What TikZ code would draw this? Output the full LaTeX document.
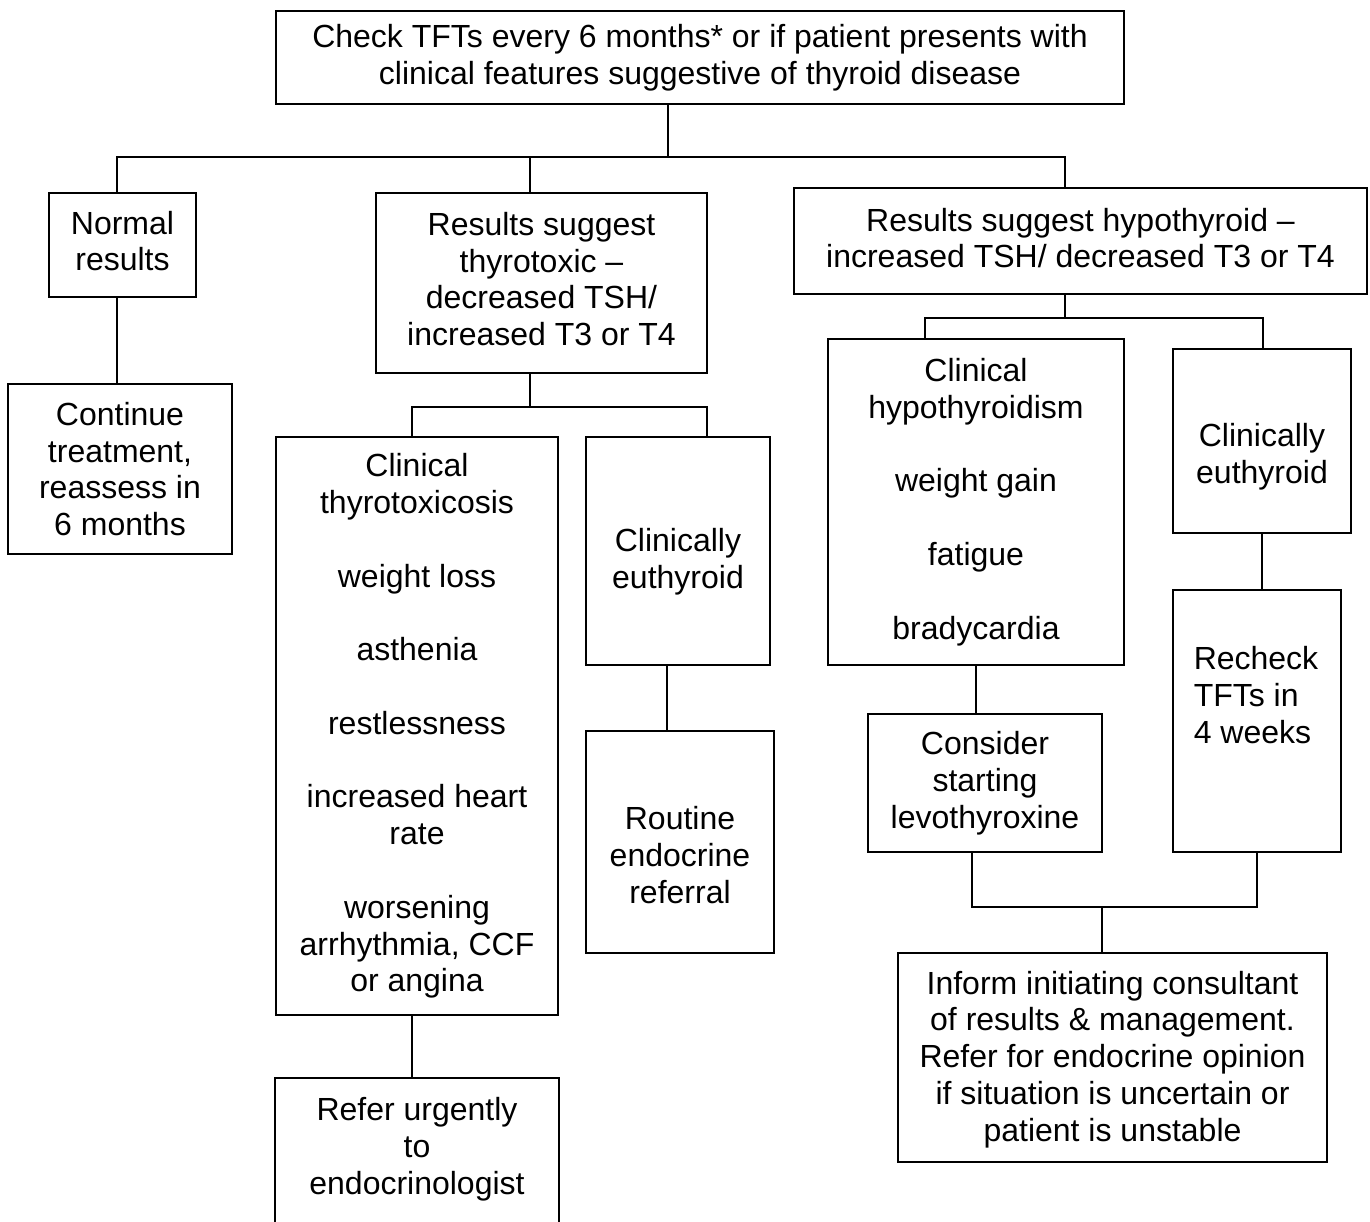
\documentclass[tikz,border=0pt]{standalone}
\usepackage{fontspec}
\setmainfont{Liberation Sans}
\begin{document}
\begin{tikzpicture}[x=1pt,y=-1pt,
  every path/.style={line width=1.6pt},
  box/.style={draw, line width=1.6pt, inner sep=0pt, align=center, font=\fontsize{32}{36.8}\selectfont},
  txt/.style={inner sep=0pt, align=center, font=\fontsize{32}{36.8}\selectfont},
  conn/.style={line width=1.6pt, line join=miter}]
\useasboundingbox[fill=white] (0,0) rectangle (1370,1221);

% boxes
\node[box, minimum width=848pt, minimum height=93pt] (top) at (700,57.5)
  {Check TFTs every 6 months* or if patient presents with\\clinical features suggestive of thyroid disease};
\node[box, minimum width=147pt, minimum height=104pt] (normal) at (122.5,245) {};
\node[txt] (normalt) at (122.5,241) {Normal\\results};
\node[box, minimum width=331pt, minimum height=180pt] (thyro) at (541.5,283) {};
\node[txt] (thyrot) at (541.5,279)
  {Results suggest\\thyrotoxic –\\decreased TSH/\\increased T3 or T4};
\node[box, minimum width=573pt, minimum height=106pt] (hypo) at (1080.5,241) {};
\node[txt] (hypot) at (1080.5,238)
  {Results suggest hypothyroid –\\increased TSH/ decreased T3 or T4};
\node[box, minimum width=224pt, minimum height=170pt] (cont) at (120,469)
  {Continue\\treatment,\\reassess in\\6 months};
\node[box, minimum width=282pt, minimum height=578pt] (ctox) at (417,726)
  {Clinical\\thyrotoxicosis\\[36.8pt]weight loss\\[36.8pt]asthenia\\[36.8pt]restlessness\\[36.8pt]increased heart\\rate\\[36.8pt]worsening\\arrhythmia, CCF\\or angina};
\node[box, minimum width=184pt, minimum height=228pt] (euthA) at (678,551) {};
\node[txt] (euthAt) at (678,562) {Clinically\\euthyroid};
\node[box, minimum width=188pt, minimum height=222pt] (routine) at (680,842) {};
\node[txt] (routinet) at (680,855) {Routine\\endocrine\\referral};
\node[txt, minimum width=282pt, minimum height=140pt] (refer) at (417,1149)
  {Refer urgently\\to\\endocrinologist};
\draw ([yshift=-100pt]refer.south west) -- (refer.north west) -- (refer.north east) -- ([yshift=-100pt]refer.south east);
\node[box, minimum width=296pt, minimum height=326pt] (chypo) at (976,502)
  {Clinical\\hypothyroidism\\[36.8pt]weight gain\\[36.8pt]fatigue\\[36.8pt]bradycardia};
\node[box, minimum width=178pt, minimum height=184pt] (euthB) at (1262,441) {};
\node[txt] (euthBt) at (1262,457) {Clinically\\euthyroid};
\node[box, minimum width=234pt, minimum height=138pt] (consider) at (985,783)
  {Consider\\starting\\levothyroxine};
\node[box, minimum width=168pt, minimum height=262pt] (recheck) at (1257,721) {};
\node[txt, align=left] (recheckt) at (1256,695) {Recheck\\TFTs in\\4 weeks};
\node[box, minimum width=429pt, minimum height=209pt] (inform) at (1112.5,1057.5) {};
\node[txt] (informt) at (1112.5,1059.5)
  {Inform initiating consultant\\of results \& management.\\Refer for endocrine opinion\\if situation is uncertain or\\patient is unstable};

% connector coordinates
\coordinate (busT) at (668,157);
\coordinate (busL) at (117,157);
\coordinate (busM) at (530,157);
\coordinate (busR) at (1065,157);
\coordinate (b2M) at (530,407);
\coordinate (b2L) at (412,407);
\coordinate (b2R) at (707,407);
\coordinate (b3M) at (1065,318);
\coordinate (b3L) at (925,318);
\coordinate (b3R) at (1263,318);
\coordinate (jL) at (972,907);
\coordinate (jR) at (1257,907);
\coordinate (jM) at (1102,907);

% connectors
\draw[conn] (top.south -| busT) -- (busT);
\draw[conn] (busL |- normal.north) -- (busL) -- (busR) -- (busR |- hypo.north);
\draw[conn] (busM) -- (busM |- thyro.north);
\draw[conn] (normal.south -| busL) -- (busL |- cont.north);
\draw[conn] (thyro.south -| b2M) -- (b2M);
\draw[conn] (b2L |- ctox.north) -- (b2L) -- (b2R) -- (b2R |- euthA.north);
\draw[conn] (euthA.south -| routine.north) ++(-13pt,0) -- ([xshift=-13pt]routine.north);
\draw[conn] (ctox.south -| b2L) -- (b2L |- refer.north);
\draw[conn] (hypo.south -| b3M) -- (b3M);
\draw[conn] (b3L |- chypo.north) -- (b3L) -- (b3R) -- (b3R |- euthB.north);
\draw[conn] (chypo.south) -- (chypo.south |- consider.north);
\draw[conn] (euthB.south) -- (euthB.south |- recheck.north);
\draw[conn] (jL |- consider.south) -- (jL) -- (jR) -- (jR |- recheck.south);
\draw[conn] (jM) -- (jM |- inform.north);
\end{tikzpicture}
\end{document}
